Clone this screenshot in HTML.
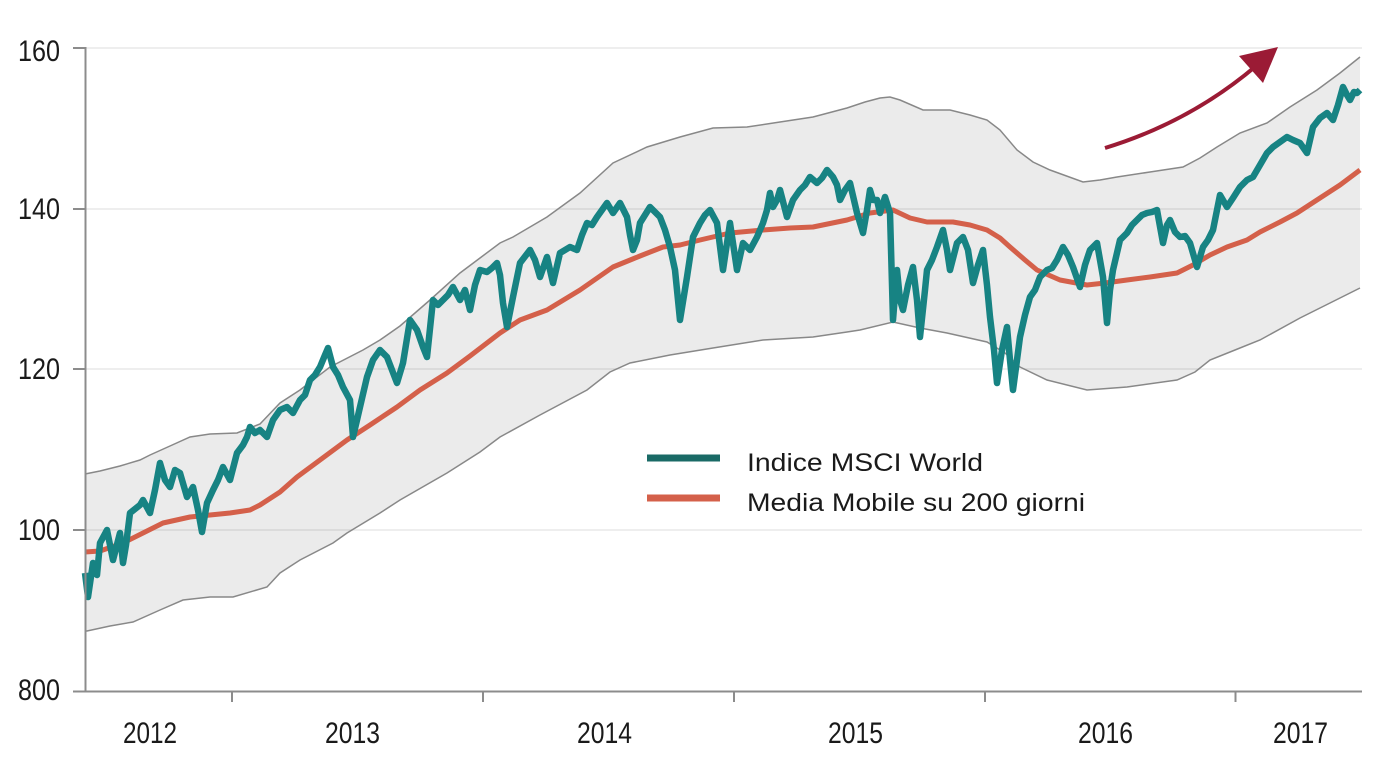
<!DOCTYPE html>
<html><head><meta charset="utf-8"><style>
html,body{margin:0;padding:0;background:#fff;}
svg{display:block;}
text{font-family:"Liberation Sans Narrow","Liberation Sans",sans-serif;fill:#1a1a1a;}
</style></head><body>
<svg width="1394" height="768" viewBox="0 0 1394 768" xmlns="http://www.w3.org/2000/svg">
<rect width="1394" height="768" fill="#fff"/>
<!-- band -->
<path fill="#ebebeb" stroke="none" d="M85,474 L100,471 120,466 140,460 150,455 170,446 190,437 210,434 237,433 260,424 280,403 300,390 330,367 363,350 380,340 400,326 430,300 460,273 480,258 500,243 513,237 547,217 580,193 613,163 647,147 680,137 713,128 747,127 780,122 813,117 847,108 865,102 880,98 890,97 900,100 923,110 950,110 970,115 987,120 1000,130 1017,150 1033,162 1050,170 1083,182 1100,180 1117,177 1150,172 1183,167 1200,158 1217,147 1240,133 1267,123 1290,107 1317,90 1340,73 1360,57 L1360,288 1330,303 1300,318 1260,340 1235,350 1210,360 1195,372 1177,380 1127,387 1087,390 1047,380 1020,367 1005,353 987,342 947,333 920,328 893,322 860,330 847,332 813,337 763,340 713,348 670,355 630,363 610,372 587,390 540,415 500,437 480,452 447,473 400,500 380,513 347,533 333,543 300,560 280,573 267,587 233,597 210,597 183,600 160,610 133,622 110,626 87,631 85,631 Z"/>
<!-- gridlines -->
<g stroke="rgba(0,0,0,0.085)" stroke-width="1.6">
<line x1="86" y1="48" x2="1362" y2="48"/>
<line x1="86" y1="209" x2="1362" y2="209"/>
<line x1="86" y1="369" x2="1362" y2="369"/>
<line x1="86" y1="530" x2="1362" y2="530"/>
</g>
<!-- band edges -->
<g fill="none" stroke="#888" stroke-width="1.5">
<polyline points="85,474 100,471 120,466 140,460 150,455 170,446 190,437 210,434 237,433 260,424 280,403 300,390 330,367 363,350 380,340 400,326 430,300 460,273 480,258 500,243 513,237 547,217 580,193 613,163 647,147 680,137 713,128 747,127 780,122 813,117 847,108 865,102 880,98 890,97 900,100 923,110 950,110 970,115 987,120 1000,130 1017,150 1033,162 1050,170 1083,182 1100,180 1117,177 1150,172 1183,167 1200,158 1217,147 1240,133 1267,123 1290,107 1317,90 1340,73 1360,57"/>
<polyline points="85,631 87,631 110,626 133,622 160,610 183,600 210,597 233,597 267,587 280,573 300,560 333,543 347,533 380,513 400,500 447,473 480,452 500,437 540,415 587,390 610,372 630,363 670,355 713,348 763,340 813,337 847,332 860,330 893,322 920,328 947,333 987,342 1005,353 1020,367 1047,380 1087,390 1127,387 1177,380 1195,372 1210,360 1235,350 1260,340 1300,318 1330,303 1360,288"/>
</g>
<!-- moving average -->
<polyline fill="none" stroke="#d4604a" stroke-width="5" stroke-linejoin="round" stroke-linecap="butt" points="85,552 100,551 123,543 145,532 163,523 190,517 210,515 230,513 250,510 260,505 280,492 297,477 320,460 347,440 370,425 397,407 420,390 447,373 470,356 500,333 520,320 547,310 580,290 613,267 640,256 663,247 680,245 700,240 730,233 763,230 790,228 813,227 847,220 870,213 893,210 910,218 927,222 953,222 970,225 987,230 1000,238 1010,247 1025,260 1037,270 1060,280 1087,285 1105,283 1127,280 1150,277 1177,273 1193,265 1210,255 1227,247 1247,240 1260,232 1280,222 1297,213 1320,198 1340,185 1360,170"/>
<!-- index -->
<polyline fill="none" stroke="#178383" stroke-width="6.5" stroke-linejoin="round" stroke-linecap="butt" points="85,573 88,597 93,563 97,575 100,543 107,530 113,560 120,533 123,563 126,545 130,513 140,505 143,500 150,513 155,490 160,463 165,480 170,487 175,470 180,473 187,497 193,487 198,510 202,532 207,503 213,490 218,480 223,467 230,480 237,453 243,445 247,437 250,427 255,433 260,430 267,437 273,420 280,410 287,407 293,413 300,400 305,395 310,380 315,375 320,367 325,355 328,348 333,367 338,375 343,387 350,400 353,437 357,420 360,407 367,377 373,360 380,350 387,357 392,370 397,383 403,363 410,320 417,330 423,347 427,357 433,300 438,305 443,300 448,295 453,287 460,300 465,290 470,310 475,285 480,270 487,272 492,268 497,263 500,275 503,303 507,327 513,297 520,263 530,250 535,260 540,277 547,257 553,283 560,253 570,247 577,250 582,235 587,223 592,225 597,217 602,210 607,203 613,213 620,203 627,217 630,235 633,250 637,240 640,223 645,215 650,207 655,212 660,217 665,230 670,247 675,270 680,320 687,277 693,237 700,223 705,215 710,210 717,223 723,270 730,223 737,270 743,243 750,250 757,237 763,223 767,210 770,193 773,207 777,200 780,190 787,217 793,200 800,190 805,185 810,177 817,183 822,178 827,170 833,177 837,185 840,200 845,190 850,183 857,213 863,233 867,210 870,190 873,200 877,200 880,213 885,197 890,213 893,320 897,270 900,300 903,310 908,285 913,267 917,300 920,337 925,290 927,270 932,260 937,247 943,230 947,250 950,270 957,243 963,237 968,250 973,283 978,265 983,250 987,285 990,317 994,350 997,383 1002,350 1007,327 1010,360 1013,390 1017,360 1020,337 1025,315 1030,297 1035,290 1040,277 1047,270 1052,268 1057,260 1063,247 1068,255 1073,267 1080,287 1085,265 1090,250 1097,243 1103,277 1107,323 1110,290 1113,270 1120,240 1127,233 1132,225 1137,220 1142,215 1147,213 1152,212 1157,210 1163,243 1167,225 1170,220 1175,232 1180,237 1185,236 1190,243 1197,267 1203,247 1208,240 1213,230 1217,210 1220,195 1227,207 1233,198 1240,187 1247,180 1253,177 1260,165 1267,153 1273,147 1280,142 1287,137 1293,140 1300,143 1307,153 1313,127 1320,118 1327,113 1333,120 1338,105 1343,87 1347,95 1350,100 1354,92 1357,93 1360,90"/>
<!-- arrow -->
<path d="M1105,148 Q1190,122 1256,66" fill="none" stroke="#9b1b35" stroke-width="4"/>
<polygon points="1278,47 1239,56 1263,83" fill="#9b1b35"/>
<!-- axes -->
<g stroke="#8c8c8c" stroke-width="2" fill="none">
<line x1="85.5" y1="47" x2="85.5" y2="692"/>
<line x1="73" y1="691.5" x2="1362" y2="691.5"/>
<line x1="73" y1="48" x2="86" y2="48"/>
<line x1="73" y1="209" x2="86" y2="209"/>
<line x1="73" y1="369" x2="86" y2="369"/>
<line x1="73" y1="530" x2="86" y2="530"/>
<line x1="232" y1="691" x2="232" y2="702"/>
<line x1="483" y1="691" x2="483" y2="702"/>
<line x1="734" y1="691" x2="734" y2="702"/>
<line x1="985" y1="691" x2="985" y2="702"/>
<line x1="1235.5" y1="691" x2="1235.5" y2="702"/>
</g>
<!-- y labels -->
<g font-size="30">
<text x="18" y="61" textLength="42" lengthAdjust="spacingAndGlyphs">160</text>
<text x="18" y="219" textLength="42" lengthAdjust="spacingAndGlyphs">140</text>
<text x="18" y="379" textLength="42" lengthAdjust="spacingAndGlyphs">120</text>
<text x="18" y="540" textLength="42" lengthAdjust="spacingAndGlyphs">100</text>
<text x="18" y="700" textLength="42" lengthAdjust="spacingAndGlyphs">800</text>
</g>
<!-- x labels -->
<g font-size="30">
<text x="123" y="743" textLength="54" lengthAdjust="spacingAndGlyphs">2012</text>
<text x="325" y="743" textLength="55" lengthAdjust="spacingAndGlyphs">2013</text>
<text x="577" y="743" textLength="55" lengthAdjust="spacingAndGlyphs">2014</text>
<text x="828" y="743" textLength="55" lengthAdjust="spacingAndGlyphs">2015</text>
<text x="1078" y="743" textLength="55" lengthAdjust="spacingAndGlyphs">2016</text>
<text x="1273" y="743" textLength="55" lengthAdjust="spacingAndGlyphs">2017</text>
</g>
<!-- legend -->
<rect x="647" y="454.5" width="73" height="7" fill="#1a6a66"/>
<rect x="647" y="494.5" width="73" height="7" fill="#d4604a"/>
<g font-size="25">
<text x="747" y="471" textLength="236" lengthAdjust="spacingAndGlyphs">Indice MSCI World</text>
<text x="747" y="511" textLength="338" lengthAdjust="spacingAndGlyphs">Media Mobile su 200 giorni</text>
</g>
</svg>
</body></html>
